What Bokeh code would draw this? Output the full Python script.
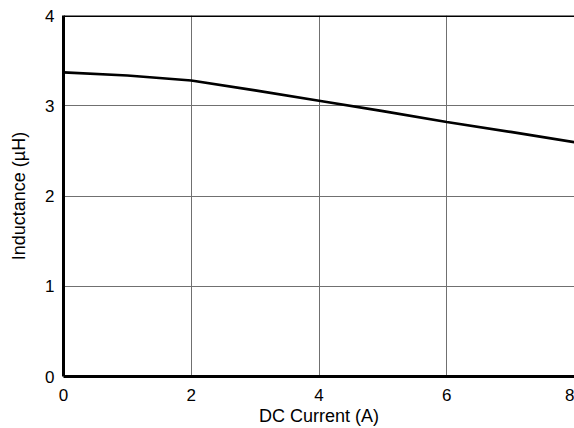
from bokeh.plotting import figure
from bokeh.models import Range1d, FixedTicker, Span
from bokeh.embed import file_html
from bokeh.resources import INLINE

# Data
current_a = [0, 1, 2, 3, 4, 5, 6, 7, 8]
inductance_uh = [3.37, 3.335, 3.28, 3.17, 3.055, 2.94, 2.82, 2.71, 2.595]

x_ticks = [0, 2, 4, 6, 8]
y_ticks = [0, 1, 2, 3, 4]

FONT = "Liberation Sans"

p = figure(width=574, height=428, output_backend="svg", toolbar_location=None,
           x_range=Range1d(0, 8), y_range=Range1d(0, 4),
           min_border_left=63, min_border_right=0, min_border_top=15, min_border_bottom=52)

p.outline_line_color = None
p.background_fill_color = "white"
p.border_fill_color = "white"

for ax in (p.xaxis[0], p.yaxis[0]):
    ax.axis_line_width = 3
    ax.axis_line_color = "black"
    ax.major_tick_line_color = None
    ax.minor_tick_line_color = None
    ax.major_tick_out = 0
    ax.major_tick_in = 0
    ax.major_label_text_font = FONT
    ax.major_label_text_font_size = "17px"
    ax.major_label_text_color = "black"
    ax.axis_label_text_font = FONT
    ax.axis_label_text_font_size = "18px"
    ax.axis_label_text_font_style = "normal"
    ax.axis_label_text_color = "black"

p.xaxis.ticker = FixedTicker(ticks=x_ticks)
p.yaxis.ticker = FixedTicker(ticks=y_ticks)
p.xaxis.axis_label = "DC Current (A)"
p.yaxis.axis_label = "Inductance (µH)"
p.xaxis.major_label_standoff = 12
p.xaxis.axis_label_standoff = 2
p.yaxis.major_label_standoff = 9
p.yaxis.axis_label_standoff = 13

p.xgrid.ticker = FixedTicker(ticks=x_ticks)
p.ygrid.ticker = FixedTicker(ticks=y_ticks)
for g in (p.xgrid[0], p.ygrid[0]):
    g.grid_line_color = "#707070"
    g.grid_line_width = 1

p.add_layout(Span(location=4, dimension="width", line_color="black", line_width=3))

p.line(current_a, inductance_uh, line_color="black", line_width=2.7)

open("out.html", "w").write(file_html(p, INLINE))
